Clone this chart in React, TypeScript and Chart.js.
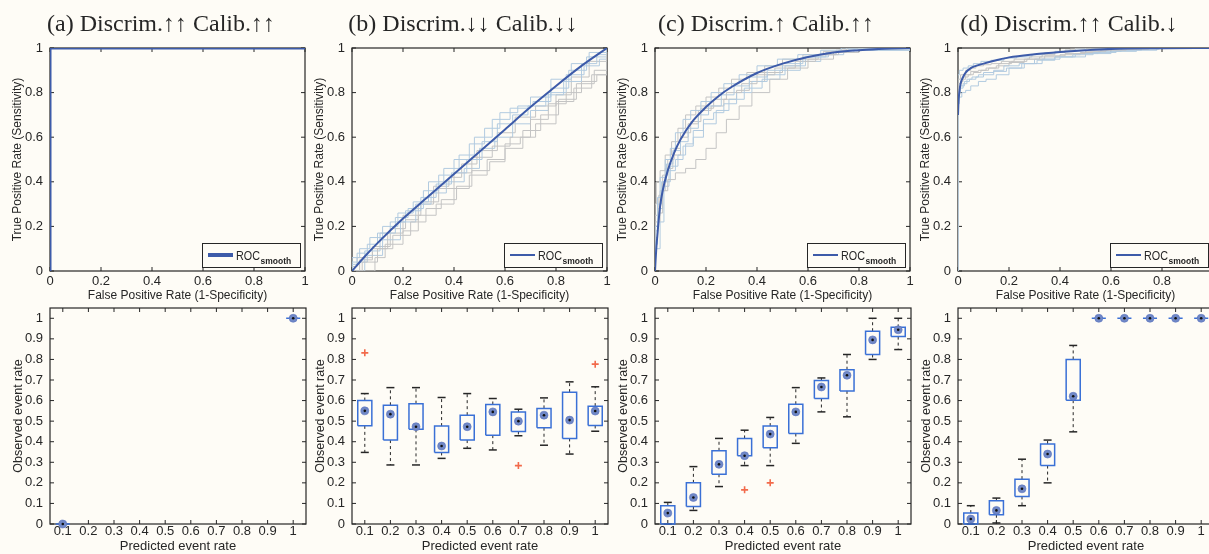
import React, { useEffect, useRef } from "react";
import { Chart, registerables } from "chart.js";

Chart.register(...registerables);

// ---------------- style constants ----------------
const BG = "#fefcf6";
const INK = "#262626";
const SANS = "'Liberation Sans', Arial, Helvetica, sans-serif";
const SERIF = "'Liberation Serif', 'DejaVu Serif', 'Times New Roman', serif";
const SMOOTH_COLOR = "#3d5ba9";
const RUN_COLORS = ["#b2cbe0", "#c4c4c4"];
const BOX_COLOR = "#3a70d6";
const MEDIAN_COLOR = "#7088c6";
const OUTLIER_COLOR = "#f26a4b";
const PLOT_LEFT = [50, 352, 655, 958];

// ---------------- text ----------------
const PANEL_TITLES = [
  "(a) Discrim.↑↑ Calib.↑↑",
  "(b) Discrim.↓↓ Calib.↓↓",
  "(c) Discrim.↑ Calib.↑↑",
  "(d) Discrim.↑↑ Calib.↓",
];
const ROC_X_TITLE = "False Positive Rate (1-Specificity)";
const ROC_Y_TITLE = "True Positive Rate (Sensitivity)";
const CAL_X_TITLE = "Predicted event rate";
const CAL_Y_TITLE = "Observed event rate";

// ---------------- ticks ----------------
const ROC_TICKS = [0, 0.2, 0.4, 0.6, 0.8, 1];
const ROC_TICK_LABELS = ["0", "0.2", "0.4", "0.6", "0.8", "1"];
const CAL_Y_TICKS = [0, 0.1, 0.2, 0.3, 0.4, 0.5, 0.6, 0.7, 0.8, 0.9, 1];
const CAL_Y_LABELS = ["0", "0.1", "0.2", "0.3", "0.4", "0.5", "0.6", "0.7", "0.8", "0.9", "1"];
const PRED_POS = [1, 2, 3, 4, 5, 6, 7, 8, 9, 10];
const PRED_LABELS = ["0.1", "0.2", "0.3", "0.4", "0.5", "0.6", "0.7", "0.8", "0.9", "1"];

// ---------------- smooth ROC curves ----------------
const smoothA_fpr = [0, 0, 1];
const smoothA_tpr = [0, 1, 1];
const smoothB_fpr = [0, 0.05, 0.1, 0.2, 0.3, 0.4, 0.5, 0.6, 0.7, 0.8, 0.9, 1];
const smoothB_tpr = [0, 0.065, 0.125, 0.235, 0.335, 0.435, 0.535, 0.635, 0.735, 0.83, 0.92, 1];
const smoothC_fpr = [0, 0.005, 0.01, 0.02, 0.03, 0.05, 0.075, 0.1, 0.15, 0.2, 0.25, 0.3, 0.4, 0.5, 0.6, 0.7, 0.8, 0.9, 1];
const smoothC_tpr = [0, 0.1, 0.17, 0.29, 0.36, 0.45, 0.53, 0.59, 0.675, 0.735, 0.785, 0.825, 0.888, 0.93, 0.96, 0.98, 0.99, 0.997, 1];
const smoothD_fpr = [0, 0.002, 0.005, 0.01, 0.02, 0.03, 0.05, 0.07, 0.1, 0.15, 0.2, 0.3, 0.4, 0.5, 0.6, 0.8, 1];
const smoothD_tpr = [0.7, 0.76, 0.8, 0.84, 0.87, 0.89, 0.91, 0.92, 0.93, 0.945, 0.958, 0.972, 0.982, 0.99, 0.996, 0.999, 1];

// ---------------- individual ROC runs (staircases) ----------------
const runsA_fpr = [[0, 0, 1]];
const runsA_tpr = [[0, 1, 1]];

const runsB_fpr = [
  [0, 0, 0.03, 0.07, 0.12, 0.18, 0.24, 0.3, 0.36, 0.42, 0.48, 0.55, 0.62, 0.7, 0.78, 0.86, 0.93, 1],
  [0, 0.09, 0.13, 0.2, 0.26, 0.33, 0.4, 0.46, 0.53, 0.6, 0.66, 0.72, 0.8, 0.87, 0.94, 1],
  [0, 0, 0.02, 0.06, 0.1, 0.15, 0.21, 0.27, 0.33, 0.39, 0.45, 0.51, 0.57, 0.63, 0.69, 0.76, 0.83, 0.9, 0.96, 1],
  [0, 0.04, 0.1, 0.16, 0.23, 0.29, 0.35, 0.41, 0.47, 0.54, 0.6, 0.67, 0.74, 0.81, 0.88, 0.95, 1],
  [0, 0.05, 0.11, 0.17, 0.22, 0.28, 0.34, 0.4, 0.46, 0.52, 0.58, 0.65, 0.71, 0.78, 0.85, 0.92, 1],
  [0, 0.03, 0.08, 0.14, 0.2, 0.27, 0.34, 0.4, 0.47, 0.55, 0.62, 0.7, 0.77, 0.84, 0.9, 0.96, 1],
  [0, 0, 0.06, 0.12, 0.19, 0.25, 0.31, 0.37, 0.44, 0.5, 0.56, 0.63, 0.7, 0.77, 0.84, 0.91, 0.97, 1],
  [0, 0, 0.02, 0.08, 0.15, 0.21, 0.26, 0.32, 0.38, 0.43, 0.49, 0.57, 0.64, 0.72, 0.8, 0.86, 0.93, 1],
];
const runsB_tpr = [
  [0, 0.06, 0.1, 0.15, 0.2, 0.26, 0.31, 0.4, 0.46, 0.52, 0.6, 0.68, 0.73, 0.78, 0.86, 0.93, 0.98, 1],
  [0, 0.06, 0.12, 0.18, 0.25, 0.3, 0.37, 0.43, 0.5, 0.57, 0.6, 0.66, 0.76, 0.82, 0.88, 1],
  [0, 0.03, 0.08, 0.12, 0.17, 0.22, 0.27, 0.33, 0.39, 0.44, 0.5, 0.58, 0.66, 0.7, 0.74, 0.79, 0.85, 0.93, 0.97, 1],
  [0, 0.04, 0.1, 0.16, 0.22, 0.28, 0.32, 0.38, 0.45, 0.49, 0.55, 0.63, 0.7, 0.77, 0.84, 0.9, 1],
  [0, 0.09, 0.17, 0.24, 0.28, 0.36, 0.43, 0.5, 0.57, 0.64, 0.71, 0.74, 0.76, 0.82, 0.9, 0.96, 1],
  [0, 0.05, 0.1, 0.17, 0.25, 0.31, 0.37, 0.44, 0.51, 0.56, 0.6, 0.68, 0.75, 0.8, 0.85, 0.88, 1],
  [0, 0.04, 0.07, 0.14, 0.22, 0.3, 0.35, 0.4, 0.46, 0.55, 0.6, 0.66, 0.72, 0.8, 0.88, 0.92, 0.95, 1],
  [0, 0.02, 0.06, 0.11, 0.19, 0.23, 0.3, 0.38, 0.42, 0.48, 0.54, 0.62, 0.69, 0.74, 0.79, 0.87, 0.94, 1],
];

const runsC_fpr = [
  [0, 0, 0.01, 0.02, 0.04, 0.06, 0.08, 0.11, 0.14, 0.18, 0.22, 0.27, 0.33, 0.4, 0.48, 0.56, 0.65, 0.73, 1],
  [0, 0, 0.01, 0.03, 0.05, 0.08, 0.12, 0.16, 0.2, 0.24, 0.28, 0.33, 0.38, 0.45, 0.52, 0.6, 0.7, 0.8, 1],
  [0, 0, 0.01, 0.025, 0.045, 0.07, 0.1, 0.13, 0.17, 0.21, 0.26, 0.31, 0.37, 0.44, 0.5, 0.58, 0.67, 0.76, 1],
  [0, 0, 0.015, 0.03, 0.05, 0.075, 0.1, 0.14, 0.18, 0.23, 0.28, 0.34, 0.4, 0.47, 0.55, 0.63, 0.72, 0.8, 1],
  [0, 0, 0.02, 0.035, 0.055, 0.08, 0.11, 0.15, 0.19, 0.24, 0.29, 0.35, 0.42, 0.49, 0.57, 0.65, 0.74, 1],
  [0, 0, 0.005, 0.02, 0.04, 0.065, 0.09, 0.12, 0.16, 0.2, 0.25, 0.3, 0.36, 0.43, 0.5, 0.58, 0.66, 0.75, 1],
  [0, 0, 0.01, 0.03, 0.06, 0.09, 0.12, 0.15, 0.19, 0.23, 0.27, 0.32, 0.38, 0.44, 0.51, 0.59, 0.68, 0.78, 1],
  [0, 0, 0.02, 0.04, 0.07, 0.1, 0.13, 0.17, 0.22, 0.27, 0.32, 0.37, 0.43, 0.5, 0.57, 0.64, 0.71, 0.8, 1],
];
const runsC_tpr = [
  [0, 0.2, 0.33, 0.42, 0.5, 0.55, 0.62, 0.68, 0.72, 0.76, 0.8, 0.84, 0.88, 0.92, 0.95, 0.97, 0.99, 1, 1],
  [0, 0.15, 0.26, 0.36, 0.41, 0.44, 0.46, 0.5, 0.55, 0.62, 0.68, 0.74, 0.8, 0.86, 0.91, 0.95, 0.98, 1, 1],
  [0, 0.12, 0.3, 0.4, 0.48, 0.54, 0.58, 0.64, 0.7, 0.74, 0.79, 0.83, 0.87, 0.9, 0.93, 0.96, 0.98, 0.995, 1],
  [0, 0.25, 0.34, 0.43, 0.5, 0.55, 0.62, 0.67, 0.73, 0.77, 0.8, 0.84, 0.88, 0.91, 0.94, 0.97, 0.99, 1, 1],
  [0, 0.1, 0.22, 0.38, 0.45, 0.5, 0.56, 0.6, 0.66, 0.72, 0.77, 0.82, 0.86, 0.9, 0.94, 0.97, 0.99, 1],
  [0, 0.3, 0.4, 0.45, 0.52, 0.58, 0.64, 0.7, 0.74, 0.78, 0.82, 0.86, 0.89, 0.92, 0.95, 0.97, 0.985, 1, 1],
  [0, 0.18, 0.28, 0.4, 0.47, 0.52, 0.57, 0.63, 0.68, 0.71, 0.75, 0.8, 0.85, 0.88, 0.92, 0.96, 0.98, 0.99, 1],
  [0, 0.22, 0.36, 0.46, 0.52, 0.6, 0.66, 0.72, 0.74, 0.77, 0.81, 0.85, 0.89, 0.92, 0.95, 0.97, 0.99, 1, 1],
];

const runsD_fpr = [
  [0, 0, 0.005, 0.015, 0.03, 0.05, 0.08, 0.11, 0.15, 0.2, 0.26, 0.33, 0.4, 0.5, 0.6, 0.7, 0.78, 1],
  [0, 0, 0.01, 0.02, 0.04, 0.06, 0.09, 0.12, 0.16, 0.21, 0.27, 0.34, 0.42, 0.5, 0.58, 0.66, 0.75, 1],
  [0, 0, 0.005, 0.02, 0.035, 0.055, 0.08, 0.1, 0.14, 0.18, 0.24, 0.3, 0.38, 0.46, 0.55, 0.64, 0.72, 1],
  [0, 0, 0.01, 0.03, 0.05, 0.07, 0.1, 0.13, 0.17, 0.22, 0.28, 0.33, 0.38, 0.42, 0.44, 0.46, 1],
  [0, 0, 0.01, 0.025, 0.045, 0.07, 0.1, 0.14, 0.19, 0.25, 0.31, 0.38, 0.45, 0.53, 0.62, 0.7, 0.79, 1],
  [0, 0, 0.015, 0.03, 0.05, 0.08, 0.11, 0.15, 0.2, 0.26, 0.32, 0.4, 0.48, 0.56, 0.64, 0.72, 1],
  [0, 0, 0.005, 0.02, 0.04, 0.06, 0.09, 0.13, 0.18, 0.23, 0.29, 0.34, 0.38, 0.42, 0.46, 0.5, 1],
];
const runsD_tpr = [
  [0, 0.75, 0.78, 0.8, 0.81, 0.83, 0.85, 0.86, 0.88, 0.91, 0.93, 0.95, 0.96, 0.975, 0.985, 0.99, 1, 1],
  [0, 0.82, 0.85, 0.87, 0.88, 0.89, 0.9, 0.91, 0.93, 0.94, 0.95, 0.965, 0.975, 0.985, 0.99, 0.995, 1, 1],
  [0, 0.78, 0.82, 0.84, 0.86, 0.87, 0.88, 0.89, 0.9, 0.92, 0.93, 0.95, 0.96, 0.975, 0.985, 0.99, 1, 1],
  [0, 0.86, 0.88, 0.9, 0.91, 0.92, 0.925, 0.93, 0.94, 0.95, 0.96, 0.97, 0.98, 0.99, 0.995, 1, 1],
  [0, 0.8, 0.83, 0.85, 0.86, 0.87, 0.88, 0.895, 0.91, 0.93, 0.945, 0.96, 0.97, 0.98, 0.99, 0.995, 1, 1],
  [0, 0.84, 0.86, 0.88, 0.895, 0.9, 0.91, 0.92, 0.935, 0.95, 0.96, 0.97, 0.98, 0.99, 0.995, 1, 1],
  [0, 0.88, 0.9, 0.91, 0.92, 0.93, 0.94, 0.945, 0.955, 0.96, 0.97, 0.978, 0.985, 0.99, 0.996, 1, 1],
];

// ---------------- calibration box statistics ----------------
const N = null;
const calA_lo = [0, N, N, N, N, N, N, N, N, 1];
const calA_q1 = [0, N, N, N, N, N, N, N, N, 1];
const calA_med = [0, N, N, N, N, N, N, N, N, 1];
const calA_q3 = [0, N, N, N, N, N, N, N, N, 1];
const calA_hi = [0, N, N, N, N, N, N, N, N, 1];
const calA_outPos: number[] = [];
const calA_outVal: number[] = [];

const calB_lo = [0.348, 0.287, 0.287, 0.319, 0.368, 0.36, 0.429, 0.383, 0.34, 0.451];
const calB_q1 = [0.477, 0.408, 0.46, 0.348, 0.408, 0.432, 0.45, 0.468, 0.416, 0.479];
const calB_med = [0.55, 0.534, 0.473, 0.379, 0.473, 0.545, 0.5, 0.529, 0.505, 0.549];
const calB_q3 = [0.6, 0.577, 0.585, 0.476, 0.529, 0.581, 0.544, 0.562, 0.641, 0.573];
const calB_hi = [0.634, 0.663, 0.663, 0.615, 0.634, 0.61, 0.558, 0.613, 0.691, 0.667];
const calB_outPos = [1, 7, 10];
const calB_outVal = [0.832, 0.284, 0.777];

const calC_lo = [0, 0.066, 0.182, 0.284, 0.284, 0.392, 0.545, 0.521, 0.8, 0.848];
const calC_q1 = [0, 0.085, 0.242, 0.332, 0.371, 0.44, 0.61, 0.647, 0.824, 0.911];
const calC_med = [0.053, 0.129, 0.29, 0.332, 0.437, 0.545, 0.666, 0.723, 0.895, 0.944];
const calC_q3 = [0.089, 0.2, 0.356, 0.416, 0.476, 0.582, 0.698, 0.75, 0.937, 0.956];
const calC_hi = [0.105, 0.279, 0.416, 0.456, 0.518, 0.663, 0.71, 0.824, 1, 1];
const calC_outPos = [4, 5];
const calC_outVal = [0.166, 0.2];

const calD_lo = [0, 0.005, 0.089, 0.2, 0.448, 1, 1, 1, 1, 1];
const calD_q1 = [0, 0.045, 0.134, 0.284, 0.602, 1, 1, 1, 1, 1];
const calD_med = [0.024, 0.066, 0.171, 0.34, 0.621, 1, 1, 1, 1, 1];
const calD_q3 = [0.053, 0.113, 0.218, 0.389, 0.8, 1, 1, 1, 1, 1];
const calD_hi = [0.089, 0.126, 0.315, 0.408, 0.868, 1, 1, 1, 1, 1];
const calD_outPos: number[] = [];
const calD_outVal: number[] = [];

// ---------------- helpers ----------------
const BOX_HALF = 0.275; // half box width in category units
const GAP = { x: 0, y: NaN };

function framePlugin(xt: number[], yt: number[], legendLineWidth: number | null) {
  return {
    id: "frame",
    beforeDatasetsDraw(chart: any) {
      const { ctx, chartArea: a, scales } = chart;
      ctx.save();
      ctx.strokeStyle = INK;
      ctx.lineWidth = 1.2;
      ctx.strokeRect(a.left, a.top, a.right - a.left, a.bottom - a.top);
      ctx.beginPath();
      const T = 4;
      for (const v of xt) {
        const px = scales.x.getPixelForValue(v);
        ctx.moveTo(px, a.bottom);
        ctx.lineTo(px, a.bottom - T);
        ctx.moveTo(px, a.top);
        ctx.lineTo(px, a.top + T);
      }
      for (const v of yt) {
        const py = scales.y.getPixelForValue(v);
        ctx.moveTo(a.left, py);
        ctx.lineTo(a.left + T, py);
        ctx.moveTo(a.right, py);
        ctx.lineTo(a.right - T, py);
      }
      ctx.lineWidth = 1;
      ctx.stroke();
      ctx.restore();
    },
    afterDatasetsDraw(chart: any) {
      if (legendLineWidth == null) return;
      const { ctx, chartArea: a } = chart;
      const w = 98;
      const h = 24;
      const x0 = a.right - 5 - w;
      const y0 = a.bottom - 4 - h;
      const cy = y0 + h / 2;
      ctx.save();
      ctx.fillStyle = BG;
      ctx.fillRect(x0, y0, w, h);
      ctx.strokeStyle = INK;
      ctx.lineWidth = 1;
      ctx.strokeRect(x0 + 0.5, y0 + 0.5, w, h);
      ctx.strokeStyle = SMOOTH_COLOR;
      ctx.lineWidth = legendLineWidth;
      ctx.beginPath();
      ctx.moveTo(x0 + 6, cy);
      ctx.lineTo(x0 + 31, cy);
      ctx.stroke();
      ctx.fillStyle = INK;
      ctx.textBaseline = "alphabetic";
      ctx.textAlign = "left";
      ctx.font = `13px ${SANS}`;
      ctx.fillText("ROC", x0 + 34, cy + 5, 24);
      const rw = Math.min(24, ctx.measureText("ROC").width);
      ctx.font = `bold 8.5px ${SANS}`;
      ctx.fillText("smooth", x0 + 34 + rw + 0.5, cy + 9);
      ctx.restore();
    },
  };
}

function makeAxis(
  min: number,
  max: number,
  ticks: number[],
  labels: string[],
  title: string,
  opts: { tickPad: number; titleSize: number; titlePad: any; fit: number; horizontal: boolean }
) {
  return {
    type: "linear",
    min,
    max,
    grid: { display: false, drawTicks: false },
    border: { display: false },
    afterBuildTicks: (s: any) => {
      s.ticks = ticks.map((v) => ({ value: v }));
    },
    ticks: {
      callback: (_v: any, i: number) => labels[i],
      font: { family: SANS, size: 13 },
      color: INK,
      padding: opts.tickPad,
      maxRotation: 0,
      minRotation: 0,
      autoSkip: false,
    },
    title: {
      display: true,
      text: title,
      font: { family: SANS, size: opts.titleSize },
      color: INK,
      padding: opts.titlePad,
    },
    afterFit: (s: any) => {
      if (opts.horizontal) s.height = opts.fit;
      else s.width = opts.fit;
    },
  };
}

function rocConfig(sf: number[], st: number[], rf: number[][], rt: number[][], thick: boolean) {
  const datasets: any[] = [
    {
      data: sf.map((x, i) => ({ x, y: st[i] })),
      borderColor: SMOOTH_COLOR,
      borderWidth: thick ? 3 : 2,
      pointRadius: 0,
      cubicInterpolationMode: thick ? "default" : "monotone",
      tension: 0,
      order: 0,
    },
    ...rf.map((f, k) => ({
      data: f.map((x, i) => ({ x, y: rt[k][i] })),
      borderColor: RUN_COLORS[k % 2],
      borderWidth: 1,
      pointRadius: 0,
      stepped: "before",
      order: k + 1,
    })),
  ];
  return {
    type: "line",
    data: { datasets },
    options: {
      animation: false,
      responsive: false,
      events: [],
      layout: { padding: { left: 0, right: 16, top: 18, bottom: 0 } },
      plugins: { legend: { display: false }, tooltip: { enabled: false }, title: { display: false } },
      scales: {
        x: makeAxis(0, 1, ROC_TICKS, ROC_TICK_LABELS, ROC_X_TITLE, {
          tickPad: 3,
          titleSize: 12,
          titlePad: { top: 0, bottom: 0 },
          fit: 32,
          horizontal: true,
        }),
        y: makeAxis(0, 1, ROC_TICKS, ROC_TICK_LABELS, ROC_Y_TITLE, {
          tickPad: 7,
          titleSize: 12,
          titlePad: { top: 10.8, bottom: 0 },
          fit: 50,
          horizontal: false,
        }),
      },
    },
    plugins: [framePlugin(ROC_TICKS, ROC_TICKS, thick ? 4 : 2)],
  };
}

function calConfig(
  lo: (number | null)[],
  q1: (number | null)[],
  med: (number | null)[],
  q3: (number | null)[],
  hi: (number | null)[],
  outPos: number[],
  outVal: number[]
) {
  const boxPts: any[] = [];
  const whiskerPts: any[] = [];
  const capPts: any[] = [];
  const medPts: any[] = [];
  PRED_POS.forEach((p, i) => {
    if (q1[i] == null) return;
    const a = q1[i] as number;
    const b = q3[i] as number;
    boxPts.push(
      { x: p - BOX_HALF, y: a },
      { x: p + BOX_HALF, y: a },
      { x: p + BOX_HALF, y: b },
      { x: p - BOX_HALF, y: b },
      { x: p - BOX_HALF, y: a },
      { ...GAP, x: p }
    );
    whiskerPts.push(
      { x: p, y: b },
      { x: p, y: hi[i] },
      { ...GAP, x: p },
      { x: p, y: a },
      { x: p, y: lo[i] },
      { ...GAP, x: p }
    );
    capPts.push({ x: p, y: hi[i] }, { x: p, y: lo[i] });
    medPts.push({ x: p, y: med[i] });
  });
  const outPts = outPos.map((p, i) => ({ x: p, y: outVal[i] }));
  const datasets: any[] = [
    {
      data: medPts,
      showLine: false,
      pointRadius: 1.3,
      pointBackgroundColor: "#111",
      pointBorderWidth: 0,
      clip: false,
      order: 0,
    },
    {
      data: medPts,
      showLine: false,
      pointRadius: 4,
      pointBackgroundColor: MEDIAN_COLOR,
      pointBorderColor: "#5a74bf",
      pointBorderWidth: 0.6,
      clip: false,
      order: 1,
    },
    {
      data: outPts,
      showLine: false,
      pointStyle: "cross",
      pointRadius: 3.5,
      pointBorderColor: OUTLIER_COLOR,
      pointBorderWidth: 1.6,
      clip: false,
      order: 2,
    },
    {
      data: boxPts,
      borderColor: BOX_COLOR,
      borderWidth: 1.5,
      pointRadius: 0,
      spanGaps: false,
      clip: false,
      order: 3,
    },
    {
      data: capPts,
      showLine: false,
      pointStyle: "line",
      pointRadius: 4,
      pointBorderColor: INK,
      pointBorderWidth: 1.5,
      clip: false,
      order: 4,
    },
    {
      data: whiskerPts,
      borderColor: INK,
      borderWidth: 1,
      borderDash: [3, 3],
      pointRadius: 0,
      spanGaps: false,
      order: 5,
    },
  ];
  return {
    type: "line",
    data: { datasets },
    options: {
      animation: false,
      responsive: false,
      events: [],
      layout: { padding: { left: 0, right: 15, top: 18, bottom: 0 } },
      plugins: { legend: { display: false }, tooltip: { enabled: false }, title: { display: false } },
      scales: {
        x: makeAxis(0.5, 10.5, PRED_POS, PRED_LABELS, CAL_X_TITLE, {
          tickPad: 0,
          titleSize: 13,
          titlePad: { top: 0, bottom: 1.8 },
          fit: 32,
          horizontal: true,
        }),
        y: makeAxis(0, 1.05, CAL_Y_TICKS, CAL_Y_LABELS, CAL_Y_TITLE, {
          tickPad: 7,
          titleSize: 12.5,
          titlePad: { top: 10.8, bottom: 0 },
          fit: 50,
          horizontal: false,
        }),
      },
    },
    plugins: [framePlugin(PRED_POS, CAL_Y_TICKS, null)],
  };
}

function ChartCanvas({ left, top, width, height, make }: { left: number; top: number; width: number; height: number; make: () => any }) {
  const ref = useRef<HTMLCanvasElement | null>(null);
  useEffect(() => {
    const chart = new Chart(ref.current as HTMLCanvasElement, make());
    return () => chart.destroy();
  }, []);
  return (
    <canvas
      ref={ref}
      width={width}
      height={height}
      style={{ position: "absolute", left, top, width, height, display: "block" }}
    />
  );
}

const ROC_MAKERS = [
  () => rocConfig(smoothA_fpr, smoothA_tpr, runsA_fpr, runsA_tpr, true),
  () => rocConfig(smoothB_fpr, smoothB_tpr, runsB_fpr, runsB_tpr, false),
  () => rocConfig(smoothC_fpr, smoothC_tpr, runsC_fpr, runsC_tpr, false),
  () => rocConfig(smoothD_fpr, smoothD_tpr, runsD_fpr, runsD_tpr, false),
];
const CAL_MAKERS = [
  () => calConfig(calA_lo, calA_q1, calA_med, calA_q3, calA_hi, calA_outPos, calA_outVal),
  () => calConfig(calB_lo, calB_q1, calB_med, calB_q3, calB_hi, calB_outPos, calB_outVal),
  () => calConfig(calC_lo, calC_q1, calC_med, calC_q3, calC_hi, calC_outPos, calC_outVal),
  () => calConfig(calD_lo, calD_q1, calD_med, calD_q3, calD_hi, calD_outPos, calD_outVal),
];

export default function App() {
  return (
    <div
      style={{
        position: "absolute",
        left: 0,
        top: 0,
        width: 1209,
        height: 554,
        overflow: "hidden",
        background: BG,
      }}
    >
      {PANEL_TITLES.map((t, i) => (
        <div
          key={"t" + i}
          style={{
            position: "absolute",
            top: 9,
            left: PLOT_LEFT[i] + 110.5 - 160,
            width: 320,
            textAlign: "center",
            font: `24px ${SERIF}`,
            lineHeight: "28px",
            color: INK,
            whiteSpace: "nowrap",
            willChange: "transform",
          }}
        >
          {t}
        </div>
      ))}
      {ROC_MAKERS.map((m, i) => (
        <ChartCanvas key={"r" + i} left={PLOT_LEFT[i] - 50} top={30} width={321} height={273} make={m} />
      ))}
      {CAL_MAKERS.map((m, i) => (
        <ChartCanvas key={"c" + i} left={PLOT_LEFT[i] - 50} top={290} width={321} height={266} make={m} />
      ))}
    </div>
  );
}
